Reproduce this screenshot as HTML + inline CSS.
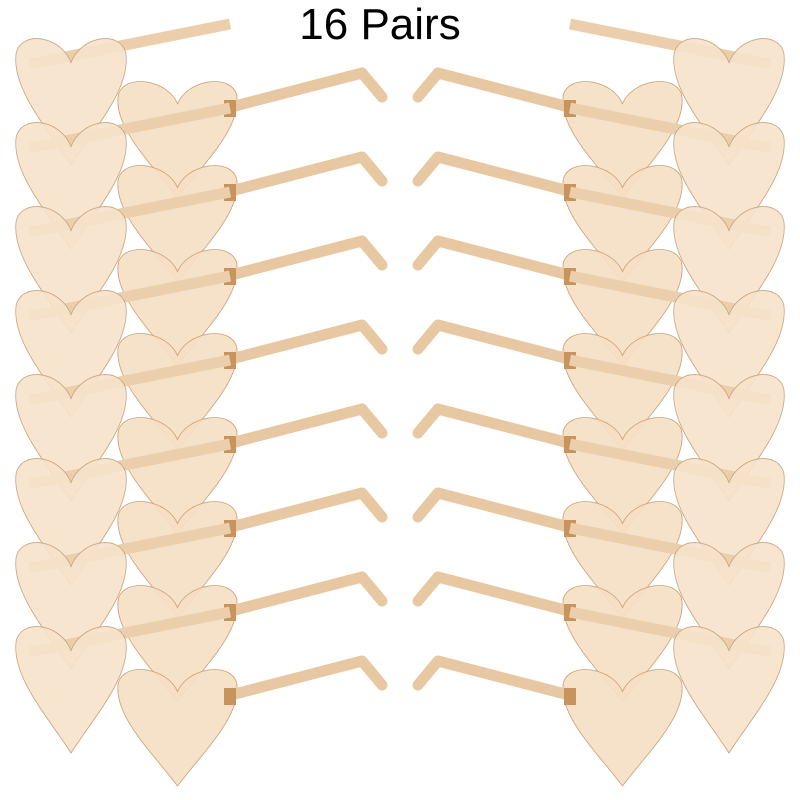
<!DOCTYPE html>
<html><head><style>
html,body{margin:0;padding:0;background:#fff;width:800px;height:800px;overflow:hidden}
svg{display:block}
text{font-family:"Liberation Sans",sans-serif}
</style></head><body>
<svg width="800" height="800" viewBox="0 0 800 800">
<defs>
<path id="h" d="M0.5,0.2 C0.42,0.0 0.08,-0.06 0.02,0.12 C-0.03,0.4 0.3,0.72 0.5,1 C0.7,0.72 1.03,0.4 0.98,0.12 C0.92,-0.06 0.58,0.0 0.5,0.2Z"/>
<g id="pair">
  <polyline points="30,652 230,612" fill="none" stroke="#ebcfac" stroke-width="11" stroke-linejoin="round"/>
  <use href="#h" transform="translate(14,625) scale(114,128)" fill="#f6e2cb" fill-opacity="0.9" stroke="#c9a47c" stroke-width="0.007"/>
  <use href="#h" transform="translate(116,668) scale(123,118)" fill="#f5dfc5" fill-opacity="0.93" stroke="#c9a47c" stroke-width="0.007"/>
  <polyline points="235,694 362,661 382,685" fill="none" stroke="#e8c8a2" stroke-width="11" stroke-linejoin="round" stroke-linecap="round"/>
  <rect x="224" y="688" width="12" height="17" fill="#c8945e"/>
</g>
</defs>
<g>
  <use href="#pair" transform="translate(0,-588)"/>
  <use href="#pair" transform="translate(0,-504)"/>
  <use href="#pair" transform="translate(0,-420)"/>
  <use href="#pair" transform="translate(0,-336)"/>
  <use href="#pair" transform="translate(0,-252)"/>
  <use href="#pair" transform="translate(0,-168)"/>
  <use href="#pair" transform="translate(0,-84)"/>
  <use href="#pair"/>
</g>
<g transform="translate(800,0) scale(-1,1)">
  <use href="#pair" transform="translate(0,-588)"/>
  <use href="#pair" transform="translate(0,-504)"/>
  <use href="#pair" transform="translate(0,-420)"/>
  <use href="#pair" transform="translate(0,-336)"/>
  <use href="#pair" transform="translate(0,-252)"/>
  <use href="#pair" transform="translate(0,-168)"/>
  <use href="#pair" transform="translate(0,-84)"/>
  <use href="#pair"/>
</g>
<rect x="290" y="0" width="185" height="48" fill="#fff"/>
<text x="380" y="39" font-size="44" text-anchor="middle" fill="#000">16 Pairs</text>
</svg>
</body></html>
